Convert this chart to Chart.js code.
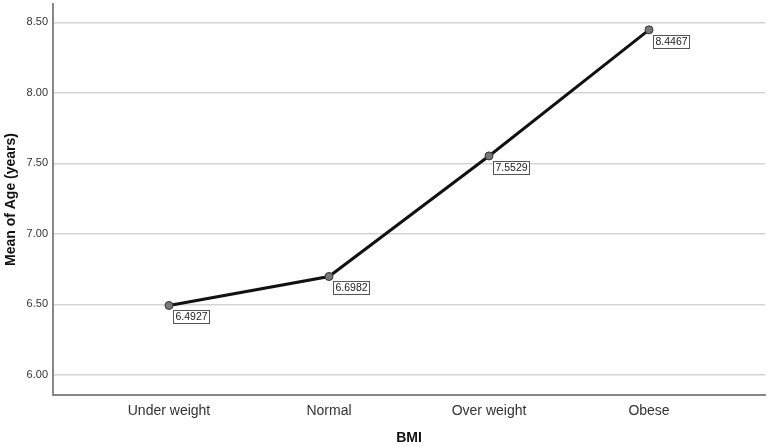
<!DOCTYPE html>
<html>
<head>
<meta charset="utf-8">
<script src="https://cdn.jsdelivr.net/npm/chart.js@4"></script>
<style>
  html, body { margin: 0; padding: 0; background: #fff; }
  #wrap { width: 767px; height: 447px; }
</style>
</head>
<body>
<div id="wrap"><canvas id="ageChart" width="767" height="447"></canvas></div>
<script>
// BMI categories and mean age per category
const categories = ['Under weight', 'Normal', 'Over weight', 'Obese'];
const meanAge = [6.4927, 6.6982, 7.5529, 8.4467];
const yTicks = [6.00, 6.50, 7.00, 7.50, 8.00, 8.50];

const FONT = "'Liberation Sans', Arial, sans-serif";

// draws the boxed value labels next to each point
const valueBoxes = {
    id: 'valueBoxes',
    afterDatasetsDraw(chart) {
        const ctx = chart.ctx;
        const meta = chart.getDatasetMeta(0);
        ctx.save();
        ctx.font = '10.5px ' + FONT;
        ctx.textBaseline = 'middle';
        ctx.textAlign = 'left';
        meta.data.forEach((pt, i) => {
            const txt = meanAge[i].toFixed(4);
            const w = Math.round(ctx.measureText(txt).width) + 4;
            const h = 13;
            const bx = Math.round(pt.x + 4) + 0.5;
            const by = Math.round(pt.y + 5) + 0.5;
            ctx.fillStyle = '#fff';
            ctx.fillRect(bx, by, w, h);
            ctx.strokeStyle = '#555';
            ctx.lineWidth = 1;
            ctx.strokeRect(bx, by, w, h);
            ctx.fillStyle = '#222';
            ctx.fillText(txt, bx + 2, by + h / 2 + 0.5);
        });
        ctx.restore();
    }
};

new Chart('ageChart', {
    type: 'line',
    data: {
        datasets: [{
            data: meanAge.map((v, i) => ({ x: i, y: v })),
            borderColor: '#111',
            borderWidth: 3,
            pointRadius: 4,
            pointBackgroundColor: '#777',
            pointBorderColor: '#333',
            pointBorderWidth: 1,
            tension: 0
        }]
    },
    options: {
        responsive: false,
        animation: false,
        layout: { autoPadding: false, padding: { top: 4, right: 2, left: 0, bottom: 0 } },
        plugins: {
            legend: { display: false },
            tooltip: { enabled: false }
        },
        scales: {
            x: {
                type: 'linear',
                min: -0.725,
                max: 3.725,
                afterBuildTicks(scale) {
                    scale.ticks = categories.map((c, i) => ({ value: i }));
                },
                afterFit(scale) {
                    scale.height = 52;
                    scale.paddingLeft = 0;
                    scale.paddingRight = 0;
                },
                grid: { display: false, drawTicks: false },
                border: { display: true, color: '#888', width: 2 },
                ticks: {
                    padding: 8,
                    color: '#333',
                    font: { size: 14, family: FONT },
                    callback: (v) => categories[v] ?? ''
                },
                title: {
                    display: true,
                    text: 'BMI',
                    color: '#111',
                    font: { size: 14, weight: 'bold', family: FONT },
                    padding: { top: 8, bottom: 0 }
                }
            },
            y: {
                min: 5.858,
                max: 8.63,
                afterBuildTicks(scale) {
                    scale.ticks = yTicks.map(v => ({ value: v }));
                },
                afterFit(scale) {
                    scale.width = 53;
                    scale.paddingTop = 0;
                    scale.paddingBottom = 0;
                },
                grid: { color: '#d4d4d4', lineWidth: 1.5, drawTicks: false },
                border: { display: true, color: '#888', width: 2 },
                ticks: {
                    padding: 5,
                    color: '#333',
                    font: { size: 11, family: FONT },
                    callback: (v) => Number(v).toFixed(2)
                },
                title: {
                    display: true,
                    text: 'Mean of Age (years)',
                    color: '#111',
                    font: { size: 14, weight: 'bold', family: FONT },
                    padding: { top: 3, bottom: 0 }
                }
            }
        }
    },
    plugins: [valueBoxes]
});
</script>
</body>
</html>
